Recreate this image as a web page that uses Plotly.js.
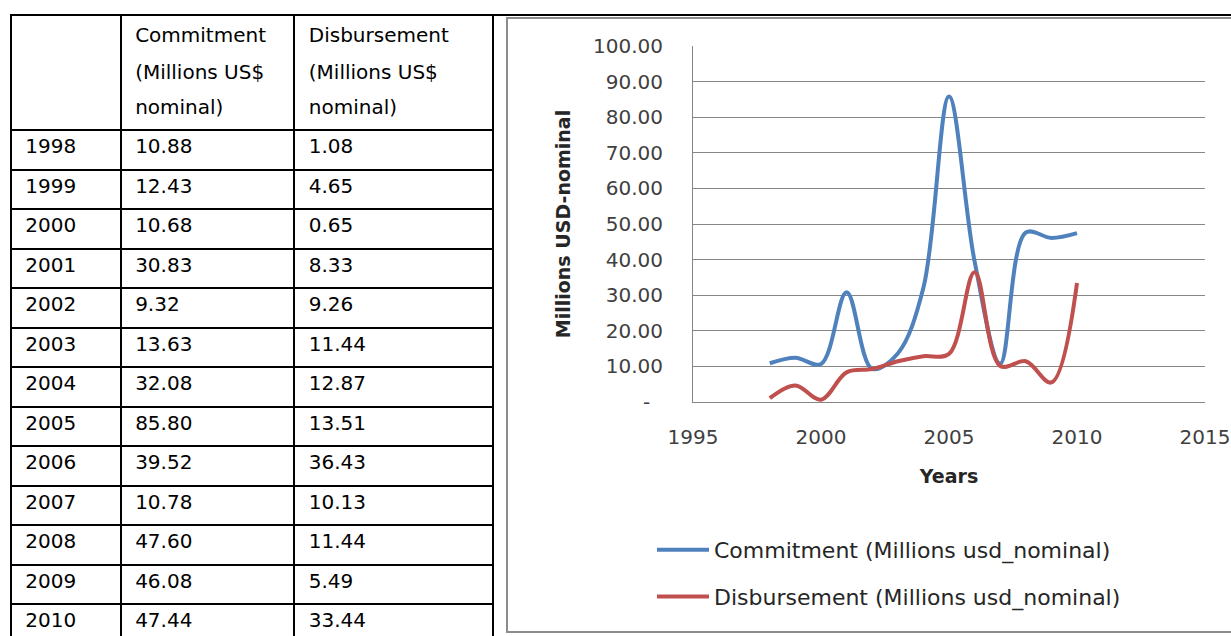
<!DOCTYPE html>
<html>
<head>
<meta charset="utf-8">
<script src="https://cdn.plot.ly/plotly-3.0.1.min.js"></script>
<style>
html,body{margin:0;padding:0;overflow:hidden;background:#fff;}
#chart{width:1231px;height:660px;}
</style>
</head>
<body>
<div id="chart"></div>
<script>
// ---- data ----
const years = [1998,1999,2000,2001,2002,2003,2004,2005,2006,2007,2008,2009,2010];
const commitment = [10.88,12.43,10.68,30.83,9.32,13.63,32.08,85.80,39.52,10.78,47.60,46.08,47.44];
const disbursement = [1.08,4.65,0.65,8.33,9.26,11.44,12.87,13.51,36.43,10.13,11.44,5.49,33.44];
const headerLines = [[], ["Commitment", "(Millions US$", "nominal)"], ["Disbursement", "(Millions US$", "nominal)"]];
const seriesNames = ["Commitment (Millions usd_nominal)", "Disbursement (Millions usd_nominal)"];
const yTickVals = [0,10,20,30,40,50,60,70,80,90,100];
const xTickVals = [1995,2000,2005,2010,2015];

// ---- geometry helpers (pixel -> paper) ----
const W = 1231, H = 660;
const px = x => x / W;
const py = y => (H - y) / H;

const pad = "\u00a0";
const headerShift = [-5, -16, -25];
const headerText = ls => ls.map((t, i) => `<span style="baseline-shift:${headerShift[i]}px">${pad}${t}</span>`).join("<br>");
const cellText = v => pad + v;

const tableTrace = {
  type: "table",
  domain: {x: [px(11), px(494)], y: [0, py(15)]},
  columnwidth: [110, 174, 199],
  header: {
    values: headerLines.map(headerText),
    align: "left",
    height: 115,
    line: {color: "#000", width: 2},
    fill: {color: "#fff"},
    font: {family: "DejaVu Sans", size: 20, color: "#000"}
  },
  cells: {
    values: [
      years.map(v => cellText(v)),
      commitment.map(v => cellText(v.toFixed(2))),
      disbursement.map(v => cellText(v.toFixed(2)))
    ],
    align: "left",
    height: 39.5,
    line: {color: "#000", width: 2},
    fill: {color: "#fff"},
    font: {family: "DejaVu Sans", size: 20, color: "#000"}
  }
};

const lineTrace = (y, name, color, grp) => ({
  type: "scatter", mode: "lines",
  x: years, y: y, name: name,
  legendgroup: grp,
  line: {color: color, width: 4, shape: "spline", smoothing: 1},
  hoverinfo: "x+y"
});

const data = [
  tableTrace,
  lineTrace(commitment, seriesNames[0], "#4F81BD", "a"),
  lineTrace(disbursement, seriesNames[1], "#C0504D", "b")
];

const layout = {
  width: W, height: H,
  margin: {l: 0, r: 0, t: 0, b: 0},
  paper_bgcolor: "#fff", plot_bgcolor: "rgba(0,0,0,0)",
  font: {family: "DejaVu Sans", color: "#404040"},
  showlegend: true,
  legend: {
    x: px(652), y: py(529), xanchor: "left", yanchor: "top",
    font: {family: "DejaVu Sans", size: 22, color: "#262626"},
    tracegroupgap: 15, itemwidth: 52, bgcolor: "rgba(0,0,0,0)"
  },
  xaxis: {
    domain: [px(693), px(1205)],
    range: [1995, 2015],
    tickvals: xTickVals,
    showgrid: false, zeroline: false,
    showline: true, linecolor: "#868686", linewidth: 1,
    ticks: "", ticklabelstandoff: 17,
    tickfont: {family: "DejaVu Sans", size: 20, color: "#404040"},
    title: {text: "Years", font: {family: "DejaVu Sans", size: 19, color: "#262626", weight: "bold"}, standoff: 21},
    fixedrange: true
  },
  yaxis: {
    domain: [py(402), py(46)],
    range: [0, 100],
    tickvals: yTickVals,
    ticktext: yTickVals.map(v => v === 0 ? "-\u00a0\u00a0" : v.toFixed(2)),
    showgrid: true, gridcolor: "#868686", gridwidth: 1,
    zeroline: false,
    showline: true, linecolor: "#868686", linewidth: 1,
    ticks: "", ticklabelstandoff: 25,
    tickfont: {family: "DejaVu Sans", size: 20, color: "#404040"},
    title: {text: "Millions USD-nominal", font: {family: "DejaVu Sans", size: 19, color: "#262626", weight: "bold"}, standoff: 17},
    fixedrange: true
  },
  shapes: [
    {type: "line", xref: "paper", yref: "paper", x0: px(494), x1: px(1231), y0: py(15), y1: py(15), line: {color: "#000", width: 2}},
    {type: "rect", xref: "paper", yref: "paper", x0: px(507), x1: px(1240), y0: py(632), y1: py(18), line: {color: "#8c8c8c", width: 2}}
  ]
};

Plotly.newPlot("chart", data, layout, {staticPlot: true, displayModeBar: false});
</script>
</body>
</html>
